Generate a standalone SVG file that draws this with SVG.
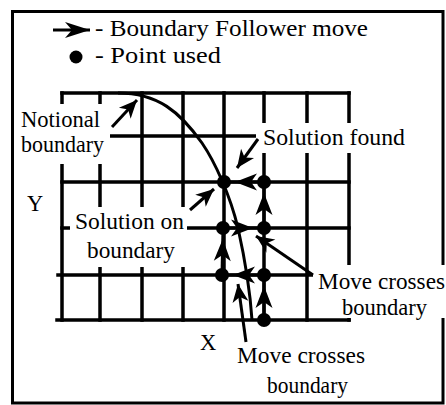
<svg xmlns="http://www.w3.org/2000/svg" width="446" height="405" viewBox="0 0 446 405">
<style>
.t{font-family:Liberation Serif,Times New Roman,Times,serif;font-size:22.5px;fill:#000}
.g{stroke:#000;stroke-width:3.5;fill:none;stroke-linecap:square}
.c{stroke:#000;stroke-width:3;fill:none}
.bg{fill:#fff}
.mv{marker-end:url(#mhead)}
.la{marker-end:url(#lhead)}
</style>
<defs>
<marker id="mhead" markerUnits="userSpaceOnUse" markerWidth="40" markerHeight="40" refX="11" refY="0" orient="auto" overflow="visible"><path d="M0,0 L-22,-8.5 L-16,0 L-22,8.5 Z" fill="#000"/></marker>
<marker id="lhead" markerUnits="userSpaceOnUse" markerWidth="40" markerHeight="40" refX="0" refY="0" orient="auto" overflow="visible"><path d="M0,0 L-18,-8 L-13,0 L-18,8 Z" fill="#000"/></marker>
<marker id="leghead" markerUnits="userSpaceOnUse" markerWidth="40" markerHeight="40" refX="0" refY="0" orient="auto" overflow="visible"><path d="M0,0 L-25,-8 L-18,0 L-25,8 Z" fill="#000"/></marker>
</defs>
<rect x="0" y="0" width="446" height="405" fill="#fff"/>
<rect x="12.5" y="11.5" width="430.5" height="391.5" fill="none" stroke="#000" stroke-width="3"/>
<g id="legend">
<line x1="53" y1="30" x2="90" y2="30" class="c" marker-end="url(#leghead)"/>
<text class="t" font-family="Liberation Serif" x="95" y="36" textLength="273" lengthAdjust="spacingAndGlyphs">- Boundary Follower move</text>
<circle cx="76" cy="57" r="6.5" fill="#000"/>
<text class="t" font-family="Liberation Serif" x="95" y="63" textLength="126" lengthAdjust="spacingAndGlyphs">- Point used</text>
</g>
<g id="grid">
<path class="g" d="M62,93H349M62,136H349M62,182H349M62,228H349M58,275H349M57,320H349"/>
<path class="g" d="M62,93V320M100,93V320M142,93V320M183,93V320M224,93V320M264,93V320M307,93V320M349,93V320"/>
</g>
<g id="label-notional">
<rect class="bg" x="15" y="104" width="95" height="60"/>
<text class="t" font-family="Liberation Serif" x="21" y="127" textLength="79" lengthAdjust="spacingAndGlyphs">Notional</text>
<text class="t" font-family="Liberation Serif" x="21" y="152" textLength="83" lengthAdjust="spacingAndGlyphs">boundary</text>
</g>
<g id="label-solution-found">
<rect class="bg" x="256" y="123" width="154" height="30"/>
<text class="t" font-family="Liberation Serif" x="263" y="145" textLength="142" lengthAdjust="spacingAndGlyphs">Solution found</text>
</g>
<g id="label-solution-on-boundary">
<rect class="bg" x="70" y="207" width="117" height="60"/>
<text class="t" font-family="Liberation Serif" x="75" y="229" textLength="109" lengthAdjust="spacingAndGlyphs">Solution on</text>
<text class="t" font-family="Liberation Serif" x="87" y="258" textLength="88" lengthAdjust="spacingAndGlyphs">boundary</text>
</g>
<g id="label-move-right">
<rect class="bg" x="313" y="265" width="133" height="53"/>
<text class="t" font-family="Liberation Serif" x="318" y="289" textLength="127" lengthAdjust="spacingAndGlyphs">Move crosses</text>
<text class="t" font-family="Liberation Serif" x="342" y="315" textLength="85" lengthAdjust="spacingAndGlyphs">boundary</text>
</g>
<g id="label-move-bottom">
<text class="t" font-family="Liberation Serif" x="237" y="363" textLength="128" lengthAdjust="spacingAndGlyphs">Move crosses</text>
<text class="t" font-family="Liberation Serif" x="267" y="393" textLength="81" lengthAdjust="spacingAndGlyphs">boundary</text>
</g>
<g id="axis-labels">
<text class="t" font-family="Liberation Serif" x="27" y="211">Y</text>
<text class="t" font-family="Liberation Serif" x="200" y="350">X</text>
</g>
<g id="connectors">
<path class="c" d="M118,93 C158,93 180,112 202,143 C215,162 230,195 238,228 C244,255 250,290 252,320"/>
<line class="c la" x1="112" y1="127" x2="137" y2="100"/>
<line class="c la" x1="258" y1="139" x2="237" y2="168"/>
<line class="c la" x1="190" y1="210" x2="214" y2="189"/>
<line class="c la" x1="313" y1="275" x2="256" y2="236"/>
<line class="c la" x1="246" y1="342" x2="238" y2="284"/>
<line class="c mv" x1="264" y1="320" x2="264" y2="275"/>
<line class="c mv" x1="264" y1="275" x2="222" y2="275"/>
<line class="c mv" x1="222" y1="275" x2="223" y2="228"/>
<line class="c mv" x1="223" y1="228" x2="264" y2="228"/>
<line class="c mv" x1="264" y1="228" x2="264" y2="182"/>
<line class="c mv" x1="264" y1="182" x2="224" y2="182"/>
</g>
<g id="points" fill="#000">
<circle cx="224" cy="182" r="7"/>
<circle cx="264" cy="182" r="7"/>
<circle cx="223" cy="228" r="7"/>
<circle cx="264" cy="228" r="7"/>
<circle cx="222" cy="275" r="7"/>
<circle cx="264" cy="275" r="7"/>
<circle cx="264" cy="320" r="7"/>
</g>
</svg>
